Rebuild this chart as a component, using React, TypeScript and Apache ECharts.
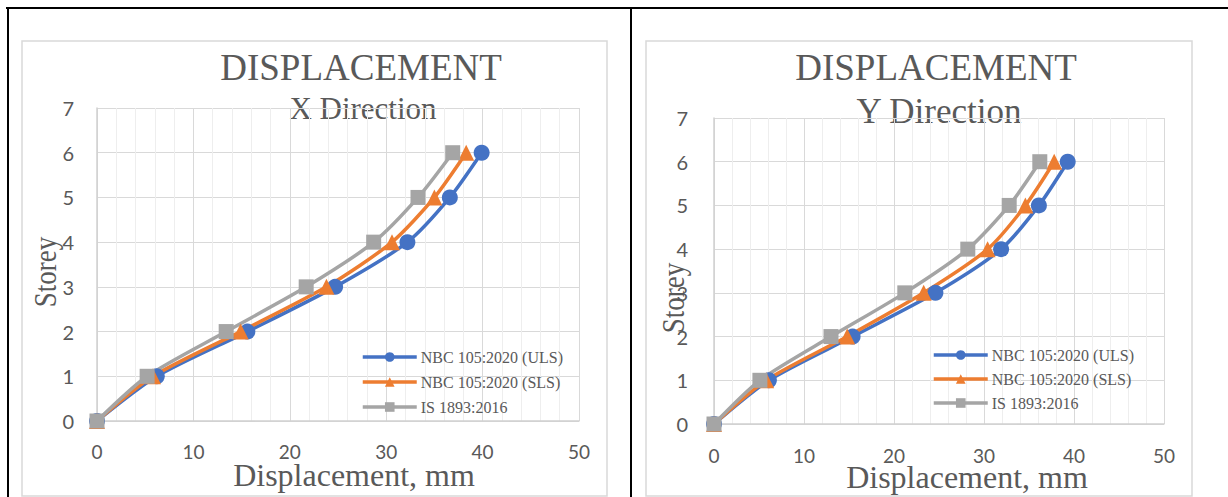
import React, { useEffect, useRef } from "react";
import * as echarts from "echarts";

// Storey levels (y values)
const storeys = [0, 1, 2, 3, 4, 5, 6];

// X Direction displacements (mm)
const xDirULS = [0, 6.2, 15.6, 24.7, 32.2, 36.6, 39.9];
const xDirSLS = [0, 5.8, 14.9, 23.8, 30.6, 35.0, 38.3];
const xDirIS = [0, 5.2, 13.4, 21.7, 28.7, 33.3, 36.9];

// Y Direction displacements (mm)
const yDirULS = [0, 6.1, 15.4, 24.6, 31.9, 36.1, 39.3];
const yDirSLS = [0, 5.8, 14.8, 23.3, 30.4, 34.6, 37.8];
const yDirIS = [0, 5.1, 13.0, 21.2, 28.2, 32.8, 36.2];

const seriesNames = ["NBC 105:2020 (ULS)", "NBC 105:2020 (SLS)", "IS 1893:2016"];
const seriesColors = ["#4472C4", "#ED7D31", "#A5A5A5"];
const seriesSymbols = ["circle", "triangle", "rect"];

const chartTitle = "DISPLACEMENT";
const subTitles = ["X Direction", "Y Direction"];
const xAxisTitle = "Displacement, mm";
const yAxisTitle = "Storey";

const TEXT = "#595959";
const SERIF = "'Liberation Serif', 'Times New Roman', serif";
const SANS = "Lato, 'Open Sans', sans-serif";

function pairs(xs: number[]) {
  return storeys.map((s, i) => [xs[i], s]);
}

export default function App() {
  const ref = useRef<HTMLDivElement>(null);

  useEffect(() => {
    if (!ref.current) return;
    const chart = echarts.init(ref.current, null, { renderer: "svg" });

    const grids = [
      { left: 97, top: 108, width: 482, height: 313 },
      { left: 714, top: 118, width: 450, height: 306 },
    ];

    const mkX = (gi: number, margin: number) => ({
      type: "value",
      gridIndex: gi,
      min: 0,
      max: 50,
      interval: 10,
      splitNumber: 5,
      axisLine: { show: true, lineStyle: { color: "#d0d0d0", width: 1.5 } },
      axisTick: { show: false },
      axisLabel: { color: TEXT, fontFamily: SANS, fontSize: 19, margin },
      splitLine: { show: true, lineStyle: { color: "#d9d9d9", width: 1 } },
      minorTick: { show: false, splitNumber: 5 },
      minorSplitLine: { show: true, lineStyle: { color: "#eeeeee", width: 1 } },
    });
    const mkY = (gi: number, margin: number) => ({
      type: "value",
      gridIndex: gi,
      min: 0,
      max: 7,
      interval: 1,
      axisLine: { show: true, lineStyle: { color: "#d0d0d0", width: 1.5 } },
      axisTick: { show: false },
      axisLabel: { color: TEXT, fontFamily: SANS, fontSize: 20, margin },
      splitLine: { show: true, lineStyle: { color: "#d9d9d9", width: 1 } },
    });

    const datasets = [
      [xDirULS, xDirSLS, xDirIS],
      [yDirULS, yDirSLS, yDirIS],
    ];

    const series: any[] = [];
    datasets.forEach((set, gi) => {
      set.forEach((vals, si) => {
        series.push({
          type: "line",
          name: seriesNames[si],
          xAxisIndex: gi,
          yAxisIndex: gi,
          data: pairs(vals),
          smooth: 0.25,
          symbol: seriesSymbols[si],
          symbolSize: si === 2 ? 15 : 16,
          showAllSymbol: true,
          lineStyle: { color: seriesColors[si], width: 3.5 },
          itemStyle: { color: seriesColors[si] },
          emphasis: { disabled: true },
        });
      });
    });

    const mkLegend = (left: number, top: number, gap: number) => ({
      orient: "vertical",
      left,
      top,
      itemWidth: 54,
      itemHeight: 12,
      itemGap: gap,
      data: seriesNames,
      lineStyle: { width: 3.5 },
      textStyle: { color: TEXT, fontFamily: SERIF, fontSize: 16, lineHeight: 16, padding: [0, 0, 0, -1] },
      selectedMode: false,
    });

    const frameLine = { stroke: "#000", lineWidth: 2 };
    const grayFrame = { fill: "none", stroke: "#d9d9d9", lineWidth: 1.5 };

    const graphic: any[] = [
      // table borders
      { type: "line", shape: { x1: 6, y1: 8, x2: 1228, y2: 8 }, style: frameLine },
      { type: "line", shape: { x1: 8, y1: 7, x2: 8, y2: 497 }, style: frameLine },
      { type: "line", shape: { x1: 631, y1: 7, x2: 631, y2: 497 }, style: frameLine },
      // chart frames
      { type: "rect", shape: { x: 22, y: 41, width: 585, height: 455 }, style: grayFrame },
      { type: "rect", shape: { x: 646, y: 41, width: 546, height: 455 }, style: grayFrame },
      // titles
      { type: "text", x: 361, y: 67, style: { text: chartTitle, fill: TEXT, font: `37px ${SERIF}`, textAlign: "center", textVerticalAlign: "middle" } },
      { type: "text", x: 363, y: 108, style: { text: subTitles[0], fill: TEXT, font: `31px ${SERIF}`, textAlign: "center", textVerticalAlign: "middle" } },
      { type: "text", x: 936, y: 67, style: { text: chartTitle, fill: TEXT, font: `37px ${SERIF}`, textAlign: "center", textVerticalAlign: "middle" } },
      { type: "text", x: 939, y: 111, style: { text: subTitles[1], fill: TEXT, font: `35px ${SERIF}`, textAlign: "center", textVerticalAlign: "middle" } },
      // axis titles
      { type: "text", x: 354, y: 475, style: { text: xAxisTitle, fill: TEXT, font: `32px ${SERIF}`, textAlign: "center", textVerticalAlign: "middle" } },
      { type: "text", x: 967, y: 477, style: { text: xAxisTitle, fill: TEXT, font: `32px ${SERIF}`, textAlign: "center", textVerticalAlign: "middle" } },
      { type: "text", x: 45, y: 272, rotation: Math.PI / 2, scaleX: 0.87, style: { text: yAxisTitle, fill: TEXT, font: `31px ${SERIF}`, textAlign: "center", textVerticalAlign: "middle" } },
      { type: "text", x: 673, y: 298, rotation: Math.PI / 2, scaleX: 0.87, style: { text: yAxisTitle, fill: TEXT, font: `31px ${SERIF}`, textAlign: "center", textVerticalAlign: "middle" } },
    ];

    chart.setOption({
      animation: false,
      backgroundColor: "#ffffff",
      grid: grids,
      xAxis: [mkX(0, 21), mkX(1, 22)],
      yAxis: [mkY(0, 23), mkY(1, 26)],
      legend: [mkLegend(356, 344, 9), mkLegend(927, 342, 8)],
      series,
      graphic,
    });

    return () => chart.dispose();
  }, []);

  return (
    <div
      ref={ref}
      style={{ position: "absolute", left: 0, top: 0, width: 1228, height: 497, background: "#fff" }}
    />
  );
}
